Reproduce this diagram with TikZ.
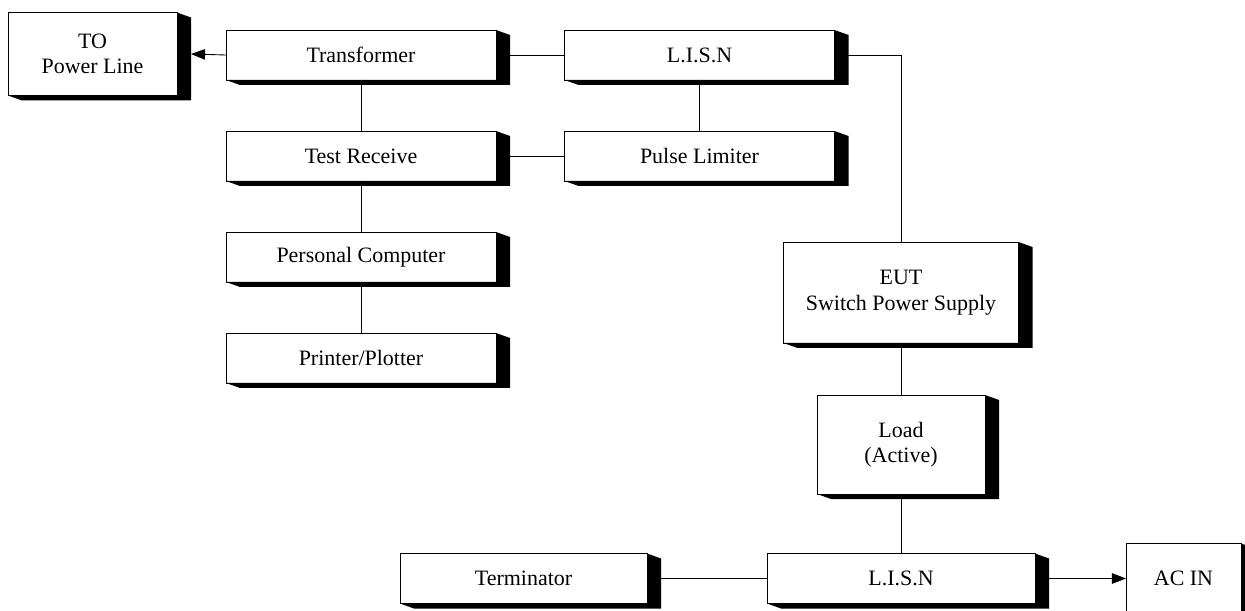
\documentclass[tikz,border=0pt]{standalone}
\usepackage{fontspec}
\setmainfont{Liberation Serif}
\usetikzlibrary{arrows.meta}
\begin{document}
\begin{tikzpicture}[x=0.02cm,y=-0.02cm,line width=0.5pt,>={Triangle[length=8pt,width=6pt]},
  every node/.style={font=\fontsize{12.5}{14.5}\selectfont},
  unit/.style={draw,fill=white,inner sep=0pt,outer sep=0pt,align=center},
  bar/.style={unit,minimum width=270*0.02cm,minimum height=50*0.02cm}]
\useasboundingbox (0,0) rectangle (1245,611);
% top part
\node[unit,minimum width=169*0.02cm,minimum height=83*0.02cm] (power) at (92.5,54) {TO\\Power Line};
\node[bar] (trans) at (361,55) {Transformer}; \node[bar] (lisn1) at (699.5,55) {L.I.S.N};
\node[bar] (testrx) at (361,156) {Test Receive}; \node[bar] (pulse) at (699.5,156) {Pulse Limiter};
\node[bar] (pc) at (361,257) {Personal Computer}; \node[bar] (printer) at (361,358) {Printer/Plotter};
% right part
\node[unit,minimum width=235*0.02cm,minimum height=101*0.02cm] (eut) at (901,292.5) {EUT\\Switch Power Supply};
\node[unit,minimum width=168*0.02cm,minimum height=99*0.02cm] (load) at (901,444.5) {Load\\(Active)};
\node[unit,minimum width=247*0.02cm,minimum height=50*0.02cm] (term) at (523.5,578.5) {Terminator};
\node[unit,minimum width=268*0.02cm,minimum height=50*0.02cm] (lisn2) at (901,578.5) {L.I.S.N};
\node[unit,minimum width=115*0.02cm,minimum height=70*0.02cm] (acin) at (1183.5,578.5) {AC IN};
% wiring
\draw[->] (trans.west) -- ([shift={(14,0)}]power.east);
\draw (trans.east) -- (lisn1.west); \draw (trans.south) -- (testrx.north); \draw (lisn1.south) -- (pulse.north);
\draw (testrx.east) -- (pulse.west); \draw (testrx.south) -- (pc.north); \draw (pc.south) -- (printer.north);
\draw (lisn1.east) -| (eut.north); \draw (eut.south) -- (load.north); \draw (load.south) -- (lisn2.north);
\draw (term.east) -- (lisn2.west); \draw[->] (lisn2.east) -- (acin.west);
% shadows
\foreach \n in {power,trans,lisn1,testrx,pulse,pc,printer,eut,load,term,lisn2,acin}
  \fill (\n.north east) -- ++(14,5) -- ([shift={(14,5)}]\n.south east) -- ([shift={(14,5)}]\n.south west) -- (\n.south west) -- (\n.south east) -- cycle;
\end{tikzpicture}
\end{document}
